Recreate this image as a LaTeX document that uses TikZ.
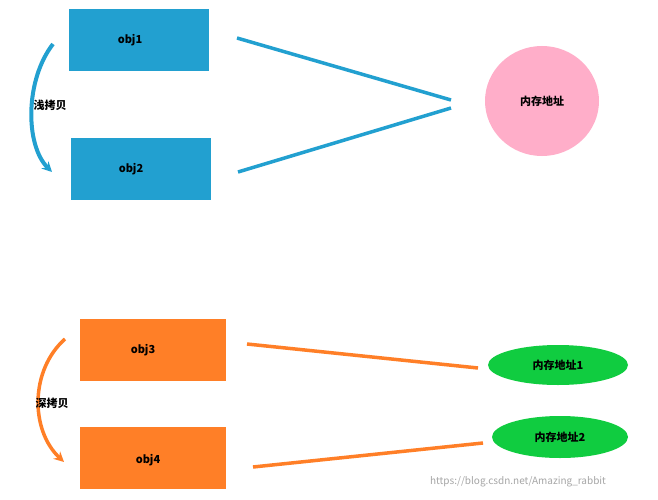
\documentclass[tikz,border=0pt]{standalone}
\usepackage{fontspec}
\setmainfont{Noto Sans CJK SC}
\usetikzlibrary{arrows.meta,shapes.geometric}
\definecolor{bl}{HTML}{22A0D0}
\definecolor{orn}{HTML}{FF7F27}
\definecolor{pk}{HTML}{FFAEC9}
\definecolor{gr}{HTML}{10CC40}
\begin{document}
\begin{tikzpicture}[x=1pt,y=-1pt,
  box/.style={draw=none,minimum width=140pt,minimum height=62pt,inner sep=0pt},
  lbl/.style={font=\fontsize{11}{13}\selectfont\bfseries},
  ln/.style={line width=3.5pt}]
\useasboundingbox (0,0) rectangle (658,500);
\fill[white] (0,0) rectangle (658,500);
\node[box,fill=bl] (o1) at (139,40) {};
\node[lbl] (t1) at (130,40) {obj1};
\node[box,fill=bl] (o2) at (141,169) {};
\node[lbl] (t2) at (131,169) {obj2};
\node[ellipse,fill=pk,minimum width=114pt,minimum height=110pt,inner sep=0pt,lbl] (m) at (542,101) {内存地址};
\coordinate (a1) at (237,38); \coordinate (b1) at (451,100);
\coordinate (a2) at (238,172); \coordinate (b2) at (451,108);
\draw[bl,ln] (a1) -- (b1);
\draw[bl,ln] (a2) -- (b2);
\coordinate (c1) at (53,44); \coordinate (c2) at (52,172);
\draw[bl,line width=4pt,-{Stealth[length=10pt,width=10pt]}] (c1) .. controls (25,80) and (25,145) .. (c2);
\node[lbl] (s1) at (50,105) {浅拷贝};
\node[box,fill=orn,minimum width=146pt] (o3) at (153,350) {};
\node[lbl] (t3) at (143,350) {obj3};
\node[box,fill=orn,minimum width=146pt] (o4) at (153,458) {};
\node[lbl] (t4) at (148,460) {obj4};
\node[ellipse,fill=gr,minimum width=140pt,minimum height=40pt,inner sep=0pt,lbl] (g1) at (558,365) {内存地址1};
\node[ellipse,fill=gr,minimum width=136pt,minimum height=42pt,inner sep=0pt,lbl] (g2) at (560,437) {内存地址2};
\coordinate (d1) at (247,344); \coordinate (e1) at (478,368);
\coordinate (d2) at (253,467); \coordinate (e2) at (483,443);
\draw[orn,ln] (d1) -- (e1);
\draw[orn,ln] (d2) -- (e2);
\coordinate (f1) at (65,339); \coordinate (f2) at (64,462);
\draw[orn,line width=3.5pt,-{Stealth[length=10pt,width=10pt]}] (f1) .. controls (30,370) and (30,430) .. (f2);
\node[lbl] (s2) at (52,403) {深拷贝};
\node[text=gray!70,font=\fontsize{10}{12}\selectfont] (w) at (518,482) {https://blog.csdn.net/Amazing\_rabbit};
\end{tikzpicture}
\end{document}
